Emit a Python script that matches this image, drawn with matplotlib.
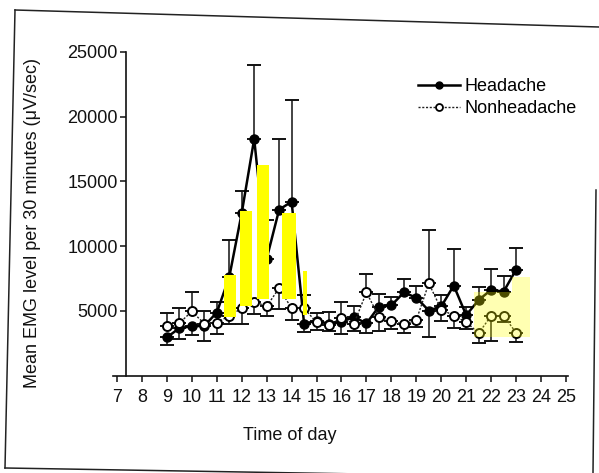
import matplotlib
matplotlib.use('Agg')
import matplotlib.pyplot as plt
from matplotlib.lines import Line2D
import numpy as np

plt.rcParams['font.family'] = ['Liberation Sans', 'DejaVu Sans']

# 时间（半小时一个点）
hours = [9, 9.5, 10, 10.5, 11, 11.5, 12, 12.5, 13, 13.5, 14, 14.5, 15, 15.5,
         16, 16.5, 17, 17.5, 18, 18.5, 19, 19.5, 20, 20.5, 21, 21.5, 22, 22.5, 23]

# Headache 组均值和误差
headache = [2950, 3660, 3800, 3840, 4860, 7600, 12550, 18280, 9020, 12820, 13430, 4000, 4230, 3990,
            4150, 4530, 4020, 5330, 5420, 6420, 6010, 5020, 5340, 6950, 4660, 5840, 6620, 6480, 8190]
headache_err = [600, 850, 650, 1200, 800, 2900, 1700, 5710, 2960, 5480, 7890, 600, 600, 890,
                950, 860, 700, 1000, 640, 1060, 920, 2010, 900, 2840, 600, 1020, 1610, 1240, 1660]

# Nonheadache 组均值和误差
nonheadache = [3840, 4050, 4950, 4010, 4080, 4610, 5190, 5710, 5340, 6760, 5190, 5200, 4100, 3930,
               4460, 4010, 6420, 4550, 4180, 3960, 4280, 7120, 5100, 4630, 4120, 3270, 4620, 4620, 3300]
nonheadache_err = [960, 1150, 1500, 980, 900, 640, 1210, 940, 740, 1590, 910, 1000, 560, 500,
                   1230, 560, 1460, 1100, 600, 700, 500, 4130, 860, 960, 500, 730, 1940, 500, 700]

# 黄色高亮（扫描件上手工加的）
hl_x = [11.53, 12.16, 12.86, 13.90, 14.53]
hl_w = [0.47, 0.47, 0.47, 0.55, 0.18]
hl_bottom = [4520, 5370, 5880, 5880, 4670]
hl_top = [7760, 12680, 16250, 12570, 8090]

pale_x = [22.085, 23.20]
pale_w = [1.51, 0.72]
pale_bottom = [3000, 3000]
pale_top = [6470, 7580]

W, H = 599, 473


def fig_line(x0, y0, x1, y1):
    # 像素坐标 -> figure 坐标
    return Line2D([x0 / W, x1 / W], [1 - y0 / H, 1 - y1 / H], transform=fig.transFigure,
                  color='#222222', lw=1.1)


fig = plt.figure(figsize=(W / 100, H / 100), dpi=100)
ax = fig.add_axes([113 / W, 1 - 375.5 / H, 455 / W, 323.5 / H])

h = np.array(headache)
n = np.array(nonheadache)
he = np.array(headache_err)
ne = np.array(nonheadache_err)
h_up = h >= n
h_yerr = [np.where(h_up, 0, he), np.where(h_up, he, 0)]
n_yerr = [np.where(h_up, ne, 0), np.where(h_up, 0, ne)]

ax.errorbar(hours, headache, yerr=h_yerr, fmt='none', ecolor='#111111', elinewidth=1.1,
            capsize=5, capthick=1.4, zorder=2)
ax.errorbar(hours, nonheadache, yerr=n_yerr, fmt='none', ecolor='#111111', elinewidth=1.1,
            capsize=5, capthick=1.4, zorder=2)

ax.plot(hours, headache, '-', color='black', lw=1.8, marker='o', ms=6.5, zorder=3)
ax.plot(hours, nonheadache, linestyle=(0, (1.5, 1.2)), color='#222222', lw=1.0, marker='o',
        ms=6.5, mfc='white', mec='black', mew=1.4, zorder=4)

ax.bar(hl_x, np.array(hl_top) - np.array(hl_bottom), width=hl_w, bottom=hl_bottom,
       color='#ffff00', zorder=6)
ax.bar(pale_x, np.array(pale_top) - np.array(pale_bottom), width=pale_w, bottom=pale_bottom,
       color='#ffff00', alpha=0.3, linewidth=0, zorder=7)

ax.set_xlim(6.84, 25.08)
ax.set_ylim(0, 25000)
ax.set_xticks(range(7, 26))
ax.set_yticks([5000, 10000, 15000, 20000, 25000])
ax.spines['top'].set_visible(False)
ax.spines['right'].set_visible(False)
ax.spines['left'].set_position(('data', 7.36))
ax.tick_params(direction='out', length=4, width=1.1, labelsize=13, colors='#111111')
ax.tick_params(axis='x', pad=6)
ax.tick_params(axis='y', pad=2)
for s in ['left', 'bottom']:
    ax.spines[s].set_linewidth(1.2)
    ax.spines[s].set_color('#111111')

ax.set_ylabel('Mean EMG level per 30 minutes (\u03bcV/sec)', fontsize=13, color='#111111')
ax.yaxis.set_label_coords(-0.158, 0.471)
ax.set_xlabel('Time of day', fontsize=13, color='#111111')
ax.xaxis.set_label_coords(0.389, -0.16)

handles = [Line2D([], [], color='black', lw=1.8, marker='o', ms=5),
           Line2D([], [], color='#222222', lw=1.0, linestyle=(0, (1.5, 1.2)), marker='o', ms=5,
                  mfc='white', mec='black', mew=1.3)]
ax.legend(handles, ['Headache', 'Nonheadache'], loc='upper left', bbox_to_anchor=(418 / W, 1 - 78 / H),
          bbox_transform=fig.transFigure, frameon=False, handlelength=2.3, handletextpad=0.3,
          labelspacing=0.3, fontsize=13, borderpad=0, borderaxespad=0)

# 扫描页的边框
fig.add_artist(fig_line(15, 10, 599, 27))
fig.add_artist(fig_line(15, 10, 5, 468))
fig.add_artist(fig_line(5, 468, 599, 478))
fig.add_artist(fig_line(596, 190, 593, 473))

fig.savefig('out.png', dpi=100)
